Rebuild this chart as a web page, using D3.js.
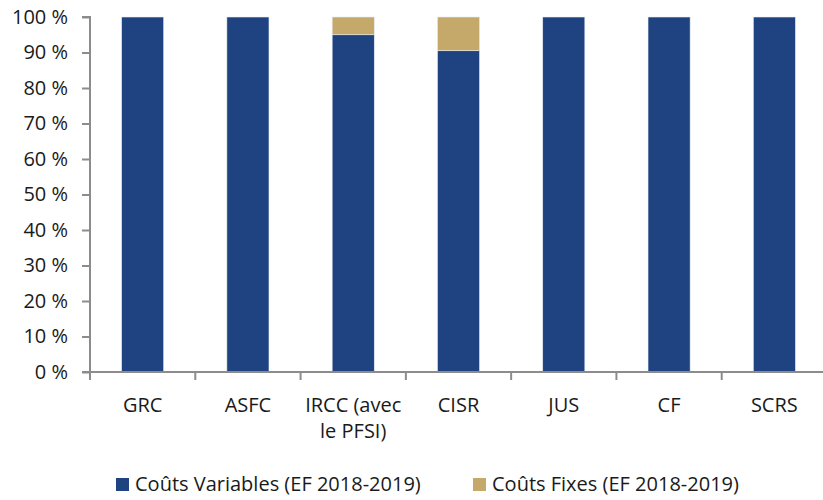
<!DOCTYPE html>
<html>
<head>
<meta charset="utf-8">
<script src="https://cdn.jsdelivr.net/npm/d3@7"></script>
<style>
  body { margin: 0; background: #fff; }
  svg text { font-family: "Open Sans", "Noto Sans", sans-serif; fill: #1a1a1a; }
</style>
</head>
<body>
<div id="chart-area"></div>
<script>
const categories = ["GRC", "ASFC", "IRCC (avec|le PFSI)", "CISR", "JUS", "CF", "SCRS"]
const variableCosts = [100, 100, 95, 90.5, 100, 100, 100]
const fixedCosts = [0, 0, 5, 9.5, 0, 0, 0]
const seriesNames = ["Coûts Variables (EF 2018-2019)", "Coûts Fixes (EF 2018-2019)"]
const yTicks = [0, 10, 20, 30, 40, 50, 60, 70, 80, 90, 100]

const COLORS = ["#1F4381", "#C4A96B"]
const AXIS = "#8c8c8c"
const FONT = "20px"

const svg = d3.select("#chart-area").append("svg")
  .attr("width", 823)
  .attr("height", 500)

// Scales
const x = d3.scaleBand()
  .domain(categories)
  .range([90, 827])
  .paddingInner(0.6)
  .paddingOuter(0.3)
const y = d3.scaleLinear()
  .domain([0, 100])
  .range([372, 17])

// stacked data
const table = categories.map((c, i) => ({ cat: c, v: variableCosts[i], f: fixedCosts[i] }))
const stack = d3.stack().keys(["v", "f"])(table)

svg.selectAll("g.layer")
  .data(stack)
  .enter().append("g")
  .attr("class", "layer")
  .attr("fill", (d, i) => COLORS[i])
  .selectAll("rect")
  .data(d => d.filter(p => p[1] - p[0] > 0))
  .enter().append("rect")
  .attr("x", d => x(d.data.cat))
  .attr("width", x.bandwidth())
  .attr("y", d => y(d[1]))
  .attr("height", d => y(d[0]) - y(d[1]))
  .attr("stroke", "#e8ecf2")
  .attr("stroke-width", 0.6)

// Y Axis
const yAxis = svg.append("g")
  .attr("transform", "translate(90, 0)")
  .call(d3.axisLeft(y).tickValues(yTicks).tickSize(8).tickPadding(14)
    .tickFormat(d => d + " %"))
yAxis.select(".domain").attr("stroke", AXIS).attr("stroke-width", 2)
  .attr("d", "M-8,17H0V372")
yAxis.selectAll(".tick line").attr("stroke", AXIS).attr("stroke-width", 2)
yAxis.selectAll(".tick text").attr("font-size", FONT).attr("fill", "#1a1a1a")
  .attr("font-family", '"Open Sans", sans-serif')

// X Axis
const xStep = x.step()
const xBoundaries = d3.range(categories.length + 1).map(i => 90 + i * xStep)
const xAxis = svg.append("g")
xAxis.append("line")
  .attr("x1", 82).attr("x2", 827)
  .attr("y1", y(0)).attr("y2", y(0))
  .attr("stroke", AXIS).attr("stroke-width", 2)
xAxis.selectAll("line.tk")
  .data(xBoundaries)
  .enter().append("line")
  .attr("class", "tk")
  .attr("x1", d => d).attr("x2", d => d)
  .attr("y1", y(0)).attr("y2", y(0) + 8)
  .attr("stroke", AXIS).attr("stroke-width", 2)

const xLabels = xAxis.selectAll("text.lbl")
  .data(categories)
  .enter().append("text")
  .attr("class", "lbl")
  .attr("text-anchor", "middle")
  .attr("font-size", FONT)
  .attr("x", d => x(d) + x.bandwidth() / 2)
  .attr("y", 412)
xLabels.each(function(d) {
  const parts = d.split("|")
  const t = d3.select(this)
  parts.forEach((p, i) => {
    t.append("tspan")
      .attr("x", x(d) + x.bandwidth() / 2)
      .attr("dy", i === 0 ? 0 : 26)
      .text(p)
  })
})

// Legend
const legendX = [116, 473]
seriesNames.forEach((name, i) => {
  const row = svg.append("g").attr("transform", `translate(${legendX[i]}, 478)`)
  row.append("rect")
    .attr("width", 13).attr("height", 13)
    .attr("fill", COLORS[i])
  row.append("text")
    .attr("x", 19)
    .attr("y", 13)
    .attr("font-size", FONT)
    .text(name)
})
</script>
</body>
</html>
